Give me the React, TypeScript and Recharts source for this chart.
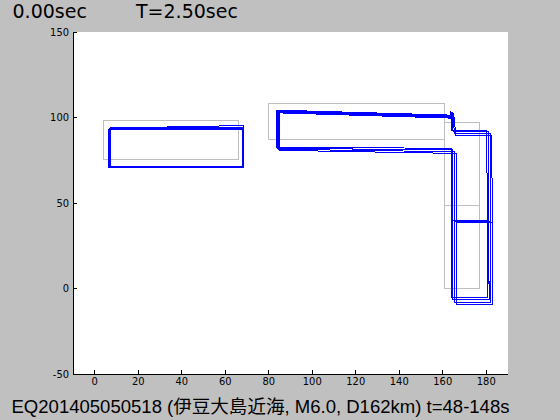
import React from 'react';
import { ScatterChart, Scatter, XAxis, YAxis, CartesianGrid } from 'recharts';

type P = { x: number; y: number };

const xTicks = [0, 20, 40, 60, 80, 100, 120, 140, 160, 180];
const yTicks = [-50, 0, 50, 100, 150];
const timeLabel = '0.00sec';
const periodLabel = 'T=2.50sec';
const caption = 'EQ201405050518 (伊豆大島近海, M6.0, D162km) t=48-148s';

// undeformed outline (gray)
const grayBlockA: P[] = [{ x: 4, y: 75.5 }, { x: 66, y: 75.5 }, { x: 66, y: 98 }, { x: 4, y: 98 }, { x: 4, y: 75.5 }];
const grayBlockB: P[] = [{ x: 80, y: 87 }, { x: 161, y: 87 }, { x: 161, y: 108 }, { x: 80, y: 108 }, { x: 80, y: 87 }];
const grayBlockC: P[] = [{ x: 161, y: 0 }, { x: 177, y: 0 }, { x: 177, y: 97 }, { x: 161, y: 97 }, { x: 161, y: 0 }];
const grayBlockCMid: P[] = [{ x: 161, y: 48.5 }, { x: 177, y: 48.5 }];

// deformed outlines (blue), block A
const blueA1: P[] = [{ x: 6.4, y: 70.6 }, { x: 67.8, y: 70.6 }, { x: 67.8, y: 93.2 }, { x: 6.4, y: 93.2 }, { x: 6.4, y: 70.6 }];
const blueA2: P[] = [{ x: 6.8, y: 71.0 }, { x: 68.2, y: 71.0 }, { x: 68.2, y: 93.6 }, { x: 6.8, y: 93.6 }, { x: 6.8, y: 71.0 }];
const blueA3: P[] = [{ x: 7.2, y: 71.4 }, { x: 68.6, y: 71.4 }, { x: 68.6, y: 94.0 }, { x: 7.2, y: 94.0 }, { x: 7.2, y: 71.4 }];
const blueA4: P[] = [{ x: 6.6, y: 70.9 }, { x: 68.4, y: 71.5 }, { x: 68.4, y: 95.3 }, { x: 6.6, y: 93.8 }, { x: 6.6, y: 70.9 }];

// deformed L-shaped outlines (blue), blocks B + C
const blueL1: P[] = [
  { x: 163.5, y: 103.9 }, { x: 164.2, y: 92.6 }, { x: 180.3, y: 92.6 }, { x: 180.5, y: -5.0 }, { x: 163.8, y: -5.0 },
  { x: 163.8, y: 82.0 }, { x: 83.6, y: 82.6 }, { x: 83.6, y: 104.3 }, { x: 163.5, y: 101.4 },
];
const blueL2: P[] = [
  { x: 164.0, y: 103.5 }, { x: 164.8, y: 91.7 }, { x: 181.0, y: 91.7 }, { x: 181.3, y: -6.4 }, { x: 164.6, y: -6.4 },
  { x: 164.6, y: 81.0 }, { x: 84.0, y: 82.0 }, { x: 84.0, y: 103.7 }, { x: 164.0, y: 100.8 },
];
const blueL3: P[] = [
  { x: 164.5, y: 103.0 }, { x: 165.4, y: 90.7 }, { x: 181.8, y: 90.7 }, { x: 182.1, y: -7.9 }, { x: 165.4, y: -7.9 },
  { x: 165.4, y: 80.0 }, { x: 84.4, y: 81.4 }, { x: 84.4, y: 103.2 }, { x: 164.5, y: 100.2 },
];
const blueL4: P[] = [
  { x: 165.0, y: 102.4 }, { x: 166.0, y: 89.6 }, { x: 182.6, y: 89.6 }, { x: 182.8, y: -9.5 }, { x: 166.2, y: -9.5 },
  { x: 166.1, y: 79.0 }, { x: 84.8, y: 80.8 }, { x: 84.8, y: 102.7 }, { x: 165.0, y: 99.6 },
];
const blueMid1: P[] = [{ x: 163.9, y: 40.0 }, { x: 180.4, y: 40.0 }];
const blueMid2: P[] = [{ x: 164.6, y: 39.6 }, { x: 181.2, y: 39.6 }];
const blueMid3: P[] = [{ x: 165.4, y: 39.0 }, { x: 182.0, y: 39.0 }];
const blueMid4: P[] = [{ x: 166.1, y: 38.4 }, { x: 182.7, y: 38.4 }];

const graySeries = [grayBlockA, grayBlockB, grayBlockC, grayBlockCMid];
const blueSeries = [blueA1, blueA2, blueA3, blueA4, blueL1, blueL2, blueL3, blueL4, blueMid1, blueMid2, blueMid3, blueMid4];

const tickFont = '"Liberation Sans Narrow", "DejaVu Sans Condensed", "Arial Narrow", sans-serif';
const GRAY = '#bebebe';
const BLUE = '#0000ff';

const noDot = () => <g />;

export default function App() {
  return (
    <div
      style={{
        position: 'absolute',
        left: 0,
        top: 0,
        width: 560,
        height: 420,
        background: '#c0c0c0',
        shapeRendering: 'crispEdges',
      }}
    >
      <ScatterChart width={560} height={420} margin={{ top: 32, right: 52, bottom: 16, left: 0 }}>
        <CartesianGrid horizontal={false} vertical={false} fill="#ffffff" stroke="none" />
        <XAxis
          type="number"
          dataKey="x"
          domain={[-10, 190]}
          ticks={xTicks}
          interval={0}
          allowDataOverflow
          height={30}
          tickSize={-4}
          tickMargin={7}
          axisLine={{ stroke: '#000' }}
          tickLine={{ stroke: '#000' }}
          tick={{ fill: '#000', fontSize: 11, fontFamily: tickFont }}
        />
        <YAxis
          type="number"
          dataKey="y"
          domain={[-50, 150]}
          ticks={yTicks}
          interval={0}
          allowDataOverflow
          width={73}
          tickSize={-4}
          tickMargin={8}
          axisLine={{ stroke: '#000' }}
          tickLine={{ stroke: '#000' }}
          tick={{ fill: '#000', fontSize: 11, fontFamily: tickFont }}
        />
        {graySeries.map((d, i) => (
          <Scatter
            key={'g' + i}
            data={d}
            fill={GRAY}
            line={{ stroke: GRAY, strokeWidth: 1 }}
            shape={noDot}
            isAnimationActive={false}
          />
        ))}
        {blueSeries.map((d, i) => (
          <Scatter
            key={'b' + i}
            data={d}
            fill={BLUE}
            line={{ stroke: BLUE, strokeWidth: 1 }}
            shape={noDot}
            isAnimationActive={false}
          />
        ))}
      </ScatterChart>
      <svg
        width={560}
        height={420}
        style={{ position: 'absolute', left: 0, top: 0, pointerEvents: 'none' }}
      >
        <text x={12.5} y={17.5} fontSize={19} fontFamily='"DejaVu Sans", sans-serif' fill="#000">
          {timeLabel}
        </text>
        <text x={136} y={17.5} fontSize={19} fontFamily='"DejaVu Sans", sans-serif' fill="#000">
          {periodLabel}
        </text>
        <text
          x={11.5}
          y={412.5}
          fontSize={18}
          fontFamily='"Liberation Sans", "Noto Sans CJK JP", sans-serif'
          fill="#000"
          textLength={498}
          lengthAdjust="spacingAndGlyphs"
        >
          {caption}
        </text>
      </svg>
    </div>
  );
}
